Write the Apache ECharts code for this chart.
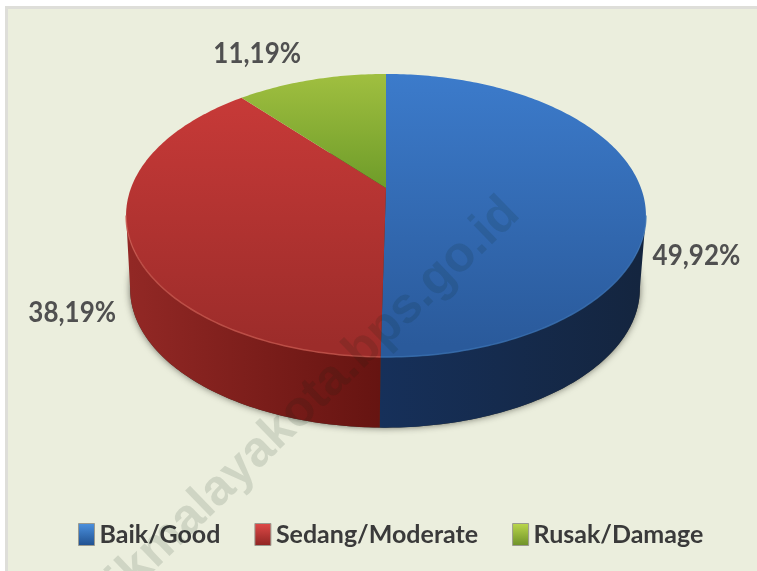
<!DOCTYPE html>
<html>
<head>
<meta charset="utf-8">
<style>
html, body { margin: 0; padding: 0; background: #fff; }
#chart { width: 757px; height: 571px; }
</style>
<script src="https://cdn.jsdelivr.net/npm/echarts@6/dist/echarts.min.js"></script>
</head>
<body>
<div id="chart"></div>
<script>
var categories = ['Baik/Good', 'Sedang/Moderate', 'Rusak/Damage'];
var values = [49.92, 38.19, 11.19];

// warna tiap irisan: atas-bawah permukaan, kiri-kanan dinding, legend
var topColors = [['#3C7BCB', '#2A5A9B'], ['#CB3B39', '#9C2C2A'], ['#A0BF40', '#6E9C29']];
var wallColors = [['#16305A', '#14253F'], ['#922825', '#661411'], null];
var rimColors = ['#3A72B4', '#C8584F', null];
var legendColors = [['#4C92E0', '#1F4F8E'], ['#E04A48', '#8E2422'], ['#BCD84C', '#6C9028']];
var labelOffset = [[55, 66], [-57, 75], [-54, -26]];

// proyeksi perspektif lingkaran pie
var persp = 0.194;
var topDisc = { cx: 386, cy: 188, rx: 255, ry: 136.2 };
var baseDisc = { cx: 385, cy: 262, rx: 250, ry: 133.5 };
var silhouette = Math.acos(-persp);

var total = values.reduce(function (a, b) { return a + b; }, 0);

function project(p, t) {
    var k = 1 + persp * Math.cos(t);
    return [p.cx + p.rx * Math.sin(t) / k, p.cy - p.ry * Math.cos(t) / k];
}

function arc(p, from, to) {
    var pts = [];
    var n = Math.max(2, Math.ceil(Math.abs(to - from) * 60));
    for (var i = 0; i <= n; i++) {
        pts.push(project(p, from + (to - from) * i / n));
    }
    return pts;
}

function vGrad(c, y0, y1, global) {
    return new echarts.graphic.LinearGradient(0, y0, 0, y1, [
        { offset: 0, color: c[0] }, { offset: 1, color: c[1] }
    ], global);
}

function hGrad(c, x0, x1) {
    return new echarts.graphic.LinearGradient(x0, 0, x1, 0, [
        { offset: 0, color: c[0] }, { offset: 1, color: c[1] }
    ], true);
}

function sliceRange(idx) {
    // irisan pertama mulai dari atas, searah jarum jam; irisan terakhir berakhir di atas
    var start = 0;
    for (var i = 0; i < idx; i++) start += values[i];
    return [start / total * Math.PI * 2, (start + values[idx]) / total * Math.PI * 2];
}

function renderSlice(params, api) {
    var idx = params.seriesIndex;
    var r = sliceRange(idx);
    var value = api.value(0);
    var children = [];

    if (idx === 0) {
        // bayangan tipis di bawah dinding
        children.push({
            type: 'polygon', z2: 0, silent: true,
            shape: { points: arc(baseDisc, 0, Math.PI * 2) },
            style: { fill: '#3a3a30', shadowBlur: 7, shadowColor: 'rgba(40,40,30,0.65)' }
        });
    }

    // dinding samping, hanya bagian yang menghadap depan
    var a = Math.max(r[0], silhouette);
    var b = Math.min(r[1], Math.PI * 2 - silhouette);
    if (a < b && wallColors[idx]) {
        var wall = arc(topDisc, a, b).concat(arc(baseDisc, a, b).reverse());
        var x0 = Math.min(project(baseDisc, a)[0], project(baseDisc, b)[0]);
        var x1 = Math.max(project(baseDisc, a)[0], project(baseDisc, b)[0]);
        children.push({
            type: 'polygon', z2: 1, silent: true,
            shape: { points: wall },
            style: { fill: hGrad(wallColors[idx], x0, x1) }
        });
    }

    // permukaan atas
    var surface = [[topDisc.cx, topDisc.cy]].concat(arc(topDisc, r[0], r[1]));
    var y0 = 74;
    var y1 = idx === 2 ? topDisc.cy : 345;
    children.push({
        type: 'polygon', z2: 2,
        shape: { points: surface },
        style: { fill: vGrad(topColors[idx], y0, y1, true) }
    });

    // garis terang di tepi depan
    if (a < b && rimColors[idx]) {
        children.push({
            type: 'polyline', z2: 3, silent: true,
            shape: { points: arc(topDisc, a, b) },
            style: { fill: null, stroke: rimColors[idx], lineWidth: 1.5, opacity: 0.8 }
        });
    }

    // label persen, font aslinya lebih tinggi jadi ditarik sedikit
    var mid = project(topDisc, (r[0] + r[1]) / 2);
    children.push({
        type: 'text', z2: 5, silent: true,
        x: mid[0] + labelOffset[idx][0],
        y: mid[1] + labelOffset[idx][1],
        scaleY: 1.12,
        style: {
            text: value.toFixed(2).replace('.', ',') + '%',
            x: 0,
            y: 0,
            align: 'center',
            verticalAlign: 'middle',
            font: '700 26px Lato',
            fill: '#505050'
        }
    });

    return { type: 'group', children: children };
}

var chart = echarts.init(document.getElementById('chart'));

var option = {
    animation: false,
    backgroundColor: '#ffffff',
    legend: {
        left: 78,
        top: 522,
        padding: 0,
        itemWidth: 16,
        itemHeight: 22,
        itemGap: 34,
        icon: 'rect',
        textStyle: {
            fontFamily: 'Lato',
            fontWeight: 700,
            fontSize: 25,
            color: '#3a3a3a'
        },
        data: categories.map(function (name, i) {
            return {
                name: name,
                itemStyle: {
                    color: vGrad(legendColors[i], 0, 1, false),
                    borderColor: '#9a9a90',
                    borderWidth: 1
                }
            };
        })
    },
    graphic: [
        { type: 'rect', z: 0, silent: true, shape: { x: 5, y: 6, width: 752, height: 565 }, style: { fill: '#DEDED9' } },
        { type: 'rect', z: 0, silent: true, shape: { x: 8, y: 9, width: 749, height: 562 }, style: { fill: '#EBEEDD' } },
        {
            type: 'text', z: 10, silent: true,
            x: 512, y: 206, rotation: 44 * Math.PI / 180,
            style: {
                text: 'tasikmalayakota.bps.go.id',
                align: 'right',
                verticalAlign: 'middle',
                font: '700 50px "Liberation Sans"',
                fill: 'rgba(10,30,20,0.12)'
            }
        }
    ],
    series: categories.map(function (name, i) {
        return {
            name: name,
            type: 'custom',
            coordinateSystem: 'none',
            renderItem: renderSlice,
            data: [[values[i]]]
        };
    })
};

chart.setOption(option);
</script>
</body>
</html>
